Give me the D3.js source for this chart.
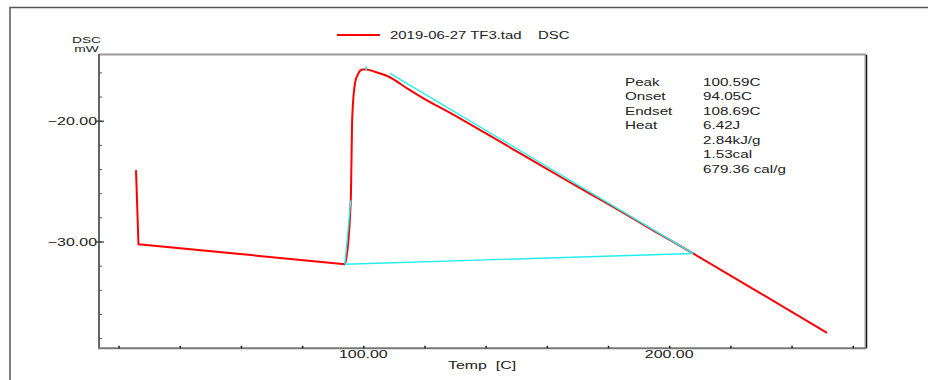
<!DOCTYPE html>
<html>
<head>
<meta charset="utf-8">
<script src="https://cdn.jsdelivr.net/npm/d3@7"></script>
<style>
    html, body { margin: 0; padding: 0; background: #fff; }
    svg text { font-family: "Liberation Sans", Arial, sans-serif; fill: #222; }
</style>
</head>
<body>
<div id="js-chart"></div>
<script>
// DSC 曲线 (红)
var redTemp = [25.7, 26.5, 94.0, 94.3, 95.9, 96.4, 97.3, 98.4, 99.6, 100.9, 103.8, 108.2, 114.7, 119.1, 130.0, 140.8, 152.0, 166.5, 180.0, 195.0, 207.8, 229.6, 251.6];
var redDsc = [-24.09, -30.22, -31.88, -31.60, -26.60, -19.68, -16.88, -16.08, -15.77, -15.75, -15.95, -16.34, -17.39, -18.06, -19.58, -21.16, -22.81, -24.95, -26.89, -29.11, -30.99, -34.25, -37.57];

// 分析辅助线 (青)
var baseTemp = [94.0, 207.8];
var baseDsc = [-31.88, -30.99];
var tangentTemp = [108.7, 207.8];
var tangentDsc = [-16.08, -30.99];
var onsetTemp = [94.0, 95.9];
var onsetDsc = [-31.88, -26.58];
var peakTemp = [100.9, 100.9];
var peakDsc = [-15.50, -15.87];

// 坐标轴
var xDomain = [13.6, 264.5];
var yDomain = [-14.56, -38.84];
var xMinor = [20, 40, 60, 80, 100, 120, 140, 160, 180, 200, 220, 240, 260];
var xMajor = [100, 200];
var yMinor = [-16, -18, -20, -22, -24, -26, -28, -30, -32, -34, -36, -38];
var yMajor = [-20, -30];

// 结果
var resultNames = ["Peak", "Onset", "Endset", "Heat", "", "", ""];
var resultValues = ["100.59C", "94.05C", "108.69C", "6.42J", "2.84kJ/g", "1.53cal", "679.36 cal/g"];

var legendText = "2019-06-27 TF3.tad";
var legendSig = "DSC";

var W = 928, H = 380;
var SX = 1.45; // 原图文字横向拉伸

function zip(a, b) {
    return a.map(function (v, i) { return [v, b[i]]; });
}

function stretchText(g, x, y, str, size, anchor) {
    return g.append("text")
        .attr("transform", "translate(" + x + "," + y + ") scale(" + SX + ",1)")
        .attr("font-size", size)
        .attr("text-anchor", anchor || "start")
        .text(str);
}

function draw() {
    var svg = d3.select("#js-chart").append("svg")
        .attr("width", W)
        .attr("height", H);

    var left = 99, right = 866.5, top = 55, bottom = 348.3;

    var x = d3.scaleLinear().domain(xDomain).range([left, right]);
    var y = d3.scaleLinear().domain(yDomain).range([top, bottom]);

    // 外框
    svg.append("path")
        .attr("d", "M10," + H + "V7.5H" + W)
        .attr("fill", "none")
        .attr("stroke", "#555")
        .attr("stroke-width", 1.5);

    // 绘图区边框
    svg.append("line").attr("x1", left).attr("x2", right).attr("y1", top - 0.5).attr("y2", top - 0.5)
        .attr("stroke", "#999").attr("stroke-width", 2);
    svg.append("line").attr("x1", right - 1.5).attr("x2", right - 1.5).attr("y1", top).attr("y2", bottom)
        .attr("stroke", "#999").attr("stroke-width", 1);
    svg.append("line").attr("x1", right).attr("x2", right).attr("y1", top).attr("y2", bottom)
        .attr("stroke", "#111").attr("stroke-width", 1.5);

    // y 轴
    var gy = svg.append("g").attr("transform", "translate(" + left + ",0)");
    gy.call(d3.axisLeft(y).tickValues(yMinor).tickSize(-3).tickSizeOuter(0).tickFormat(""));
    gy.select(".domain").attr("stroke", "#666").attr("stroke-width", 2)
        .attr("d", "M0," + (top - 1) + "V" + bottom);
    gy.selectAll(".tick line").attr("stroke", "#555");
    var gyMaj = svg.append("g").attr("transform", "translate(" + (left + 5) + ",0)");
    gyMaj.call(d3.axisLeft(y).tickValues(yMajor).tickSize(8).tickFormat(""));
    gyMaj.select(".domain").remove();
    gyMaj.selectAll(".tick line").attr("stroke", "#333").attr("stroke-width", 1.2);
    yMajor.forEach(function (v) {
        stretchText(svg, 97, y(v) + 4, d3.format(".2f")(v), 11, "end");
    });

    // x 轴
    var gx = svg.append("g").attr("transform", "translate(0," + bottom + ")");
    gx.call(d3.axisBottom(x).tickValues(xMinor).tickSize(-2.5).tickSizeOuter(0).tickFormat(""));
    gx.select(".domain").attr("stroke", "#777").attr("stroke-width", 2)
        .attr("d", "M" + (left - 1) + ",0H" + right);
    gx.selectAll(".tick line").attr("stroke", "#222").attr("stroke-width", 1.5);
    xMajor.forEach(function (v) {
        stretchText(svg, x(v), 358, d3.format(".2f")(v), 11, "middle");
    });

    // 轴标题
    stretchText(svg, 86.5, 42.5, "DSC", 9.5, "middle");
    stretchText(svg, 86.5, 52, "mW", 9.5, "middle");
    stretchText(svg, 482, 368.5, "Temp\u00a0\u00a0[C]", 11, "middle");

    // 图例
    svg.append("line").attr("x1", 337).attr("x2", 380).attr("y1", 35).attr("y2", 35)
        .attr("stroke", "#ff0000").attr("stroke-width", 2);
    stretchText(svg, 390, 39, legendText, 10.3);
    stretchText(svg, 538, 39, legendSig, 10.3);

    // 曲线
    var line = d3.line()
        .x(function (d) { return x(d[0]); })
        .y(function (d) { return y(d[1]); });
    var curve = d3.line()
        .x(function (d) { return x(d[0]); })
        .y(function (d) { return y(d[1]); })
        .curve(d3.curveMonotoneX);

    var cyan = [zip(baseTemp, baseDsc), zip(tangentTemp, tangentDsc), zip(onsetTemp, onsetDsc), zip(peakTemp, peakDsc)];

    svg.append("path")
        .datum(zip(redTemp, redDsc))
        .attr("d", function (d) {
            // 前两段为折线，其余平滑
            return line(d.slice(0, 3)) + curve(d.slice(2)).replace(/^M/, "L");
        })
        .attr("fill", "none")
        .attr("stroke", "#ff0000")
        .attr("stroke-width", 2)
        .attr("stroke-linejoin", "round");

    svg.selectAll(".cyan").data(cyan).enter().append("path")
        .attr("class", "cyan")
        .attr("d", line)
        .attr("fill", "none")
        .attr("stroke", "#22eef0")
        .attr("stroke-width", 1.4);

    // 分析结果
    resultNames.forEach(function (n, i) {
        var yy = 86 + i * 14.45;
        if (n) stretchText(svg, 625, yy, n, 10.5);
        stretchText(svg, 703, yy, resultValues[i], 10.5);
    });
}

draw();
</script>
</body>
</html>
